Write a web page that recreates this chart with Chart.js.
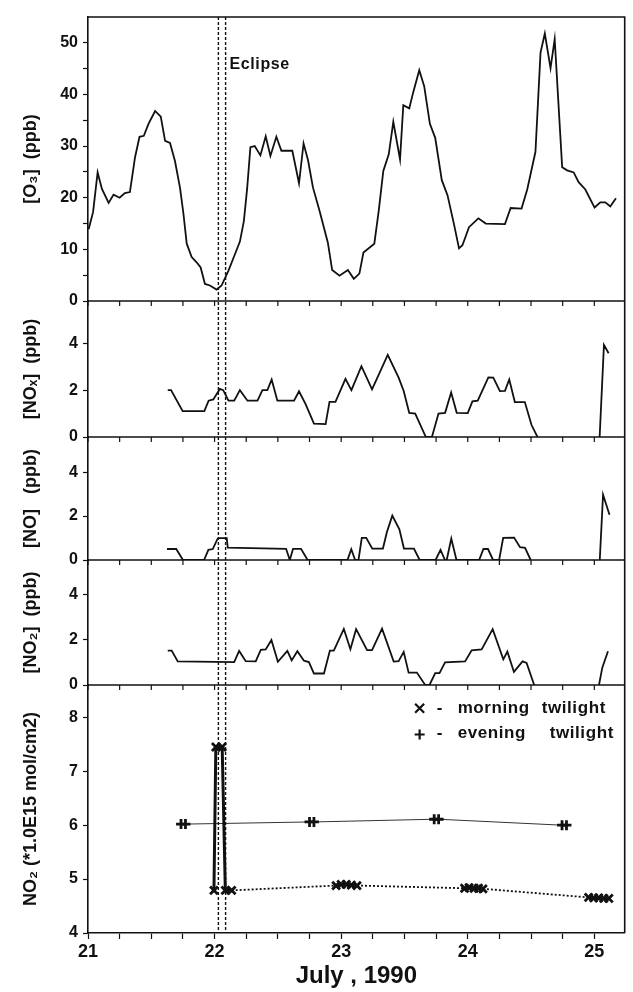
<!DOCTYPE html>
<html>
<head>
<meta charset="utf-8">
<script src="https://cdn.jsdelivr.net/npm/chart.js@4.4.1/dist/chart.umd.min.js"></script>
<style>
  html, body { margin: 0; padding: 0; background: #fff; }
  canvas { display: block; }
</style>
</head>
<body>
<canvas id="chart" width="633" height="992"></canvas>
<script>
// surface ozone, July 21-25 1990 (day of month, ppb)
const o3Days = [21.005, 21.04, 21.076, 21.11, 21.163, 21.202, 21.25, 21.291, 21.331, 21.372, 21.407, 21.441,
  21.478, 21.53, 21.575, 21.609, 21.648, 21.687, 21.727, 21.754, 21.78, 21.819, 21.858, 21.89, 21.924, 21.963,
  22.016, 22.055, 22.108, 22.16, 22.2, 22.231, 22.257, 22.283, 22.317, 22.362, 22.404, 22.441, 22.488, 22.528,
  22.614, 22.667, 22.703, 22.738, 22.777, 22.829, 22.895, 22.929, 22.987, 23.053, 23.1, 23.144, 23.176, 23.262,
  23.297, 23.333, 23.376, 23.412, 23.465, 23.491, 23.538, 23.569, 23.617, 23.656, 23.701, 23.743, 23.795, 23.84,
  23.892, 23.931, 23.958, 24.01, 24.084, 24.142, 24.294, 24.339, 24.425, 24.47, 24.535, 24.575, 24.609, 24.654,
  24.687, 24.746, 24.785, 24.837, 24.876, 24.929, 25.002, 25.047, 25.087, 25.126, 25.171];
const o3Ppb = [13.9, 17.2, 24.9, 21.7, 19.0, 20.6, 20.0, 20.9, 21.1, 27.9, 31.8, 32.0,
  34.3, 36.8, 35.7, 31.0, 30.6, 27.1, 21.9, 16.9, 11.1, 8.5, 7.5, 6.5, 3.3, 3.0,
  2.2, 3.0, 5.8, 9.0, 11.5, 15.4, 21.7, 29.8, 30.0, 28.2, 31.9, 28.1, 31.8, 29.1,
  29.1, 22.8, 30.5, 27.3, 22.0, 17.5, 11.3, 6.0, 4.9, 6.0, 4.3, 5.3, 9.4, 11.1,
  17.5, 25.2, 28.4, 34.7, 27.4, 37.9, 37.3, 40.4, 44.7, 41.6, 34.3, 31.6, 23.4, 20.5,
  14.8, 10.2, 10.8, 14.3, 16.0, 15.0, 14.9, 18.0, 17.9, 21.6, 28.9, 48.1, 51.8, 45.1,
  50.7, 25.9, 25.3, 24.9, 23.0, 21.6, 18.1, 19.1, 19.1, 18.3, 19.9];

// NOx (ppb); null marks the gap in the record
const noxDays = [21.63, 21.656, 21.748, 21.919, 21.953, 21.99, 22.042, 22.068, 22.11, 22.155, 22.2, 22.26,
  22.339, 22.378, 22.417, 22.451, 22.496, 22.628, 22.667, 22.719, 22.785, 22.877, 22.908, 22.955, 23.034,
  23.081, 23.16, 23.244, 23.368, 23.454, 23.494, 23.538, 23.585, 23.669, 23.717, 23.769, 23.821, 23.869,
  23.913, 24.0, 24.037, 24.079, 24.163, 24.202, 24.254, 24.294, 24.328, 24.372, 24.451, 24.504, 24.551,
  24.8, 25.042, 25.076, 25.113];
const noxPpb = [2.0, 2.0, 1.1, 1.1, 1.55, 1.6, 2.05, 2.0, 1.55, 1.55, 2.0, 1.55,
  1.55, 2.0, 2.0, 2.45, 1.55, 1.55, 1.95, 1.4, 0.57, 0.55, 1.5, 1.5, 2.48,
  2.0, 3.02, 2.03, 3.5, 2.53, 1.96, 1.03, 1.0, 0, 0, 1.0, 1.03, 1.9,
  1.03, 1.02, 1.52, 1.55, 2.54, 2.53, 1.96, 1.97, 2.45, 1.49, 1.49, 0.51, 0,
  null, 0, 3.93, 3.57];

// NO (ppb)
const noDays = [21.624, 21.697, 21.75, 21.917, 21.951, 21.986, 22.022, 22.03, 22.096, 22.104, 22.565, 22.594,
  22.62, 22.683, 22.735, 23.05, 23.08, 23.11, 23.137, 23.163, 23.198, 23.246, 23.33, 23.361, 23.404, 23.46,
  23.496, 23.575, 23.62, 23.746, 23.785, 23.82, 23.834, 23.87, 23.911, 24.09, 24.124, 24.16, 24.2, 24.248,
  24.28, 24.366, 24.413, 24.453, 24.497, 24.8, 25.043, 25.069, 25.12];
const noPpb = [0.5, 0.5, 0, 0, 0.46, 0.5, 0.95, 1.0, 1.0, 0.56, 0.51, 0,
  0.51, 0.51, 0, 0, 0.49, 0, 0, 1.01, 1.01, 0.52, 0.52, 1.26, 2.02, 1.4,
  0.52, 0.52, 0, 0, 0.46, 0, 0, 0.98, 0, 0, 0.5, 0.5, 0, 0,
  1.01, 1.02, 0.58, 0.55, 0, null, 0, 2.97, 2.06];

// NO2 (ppb)
const no2Days = [21.63, 21.661, 21.709, 22.155, 22.194, 22.246, 22.325, 22.365, 22.404, 22.449, 22.5, 22.575,
  22.609, 22.654, 22.706, 22.745, 22.785, 22.864, 22.911, 22.942, 23.021, 23.073, 23.118, 23.205, 23.244,
  23.323, 23.415, 23.454, 23.494, 23.533, 23.598, 23.664, 23.698, 23.743, 23.777, 23.821, 23.979, 24.031,
  24.11, 24.197, 24.281, 24.313, 24.365, 24.433, 24.465, 24.525, 24.8, 25.037, 25.063, 25.108];
const no2Ppb = [1.53, 1.53, 1.05, 1.02, 1.51, 1.06, 1.05, 1.56, 1.58, 2.0, 1.03, 1.51,
  1.09, 1.5, 1.08, 1.02, 0.51, 0.51, 1.53, 1.53, 2.49, 1.59, 2.48, 1.55, 1.55,
  2.5, 1.04, 1.06, 1.47, 0.55, 0.55, 0, 0, 0.53, 0.53, 1.01, 1.05, 1.54,
  1.58, 2.48, 1.14, 1.48, 0.58, 1.05, 0.98, 0, null, 0, 0.77, 1.5];

// NO2 column (1.0E15 mol/cm2) at twilight
const morningDays = [21.995, 22.01, 22.06, 22.085, 22.135, 22.96, 23.0, 23.04, 23.08, 23.125,
  23.975, 24.01, 24.05, 24.085, 24.12, 24.955, 24.995, 25.035, 25.075, 25.115];
const morningCol = [4.79, 7.45, 7.45, 4.79, 4.79, 4.88, 4.9, 4.9, 4.89, 4.88,
  4.83, 4.84, 4.83, 4.83, 4.82, 4.66, 4.65, 4.65, 4.64, 4.64];
const eveningDays = [21.735, 21.77, 22.75, 22.785, 23.735, 23.77, 24.745, 24.78];
const eveningCol = [6.02, 6.02, 6.06, 6.06, 6.11, 6.11, 6.0, 6.0];

// eclipse start / end
const eclipseDays = [22.03, 22.087];

// tick labels
const dayLabels = [21, 22, 23, 24, 25];
const o3Ticks = [0, 5, 10, 15, 20, 25, 30, 35, 40, 45, 50];
const o3Labels = [0, 10, 20, 30, 40, 50];
const ppbTicks = [0, 2, 4];
const colTicks = [4, 5, 6, 7, 8];

const family = "'Liberation Sans', Arial, Helvetica, sans-serif";
const ink = '#111';

const pts = (xs, ys) => xs.map((x, i) => ({ x, y: ys[i] }));

const panel = (order, height, min, max, tickValues, labels, title) => ({
  type: 'linear',
  position: 'left',
  stack: 'panels',
  stackWeight: height,
  weight: order,
  min,
  max,
  afterBuildTicks: s => { s.ticks = tickValues.map(v => ({ value: v })); },
  afterFit: s => { s.width = 88; },
  border: { color: ink, width: 1.6 },
  grid: { drawOnChartArea: false, drawTicks: true, tickLength: 5, tickColor: ink, tickWidth: 1.2 },
  ticks: {
    color: ink, autoSkip: false, padding: 5,
    font: { family, size: 16, weight: 'bold' },
    callback: v => labels.includes(v) ? String(v) : ''
  },
  title: {
    display: true, text: title, color: ink,
    font: { family, size: 18, weight: 'bold' },
    padding: { top: 20, bottom: 0 }
  }
});

const line = (data, yAxisID) => ({
  data, yAxisID, borderColor: ink, borderWidth: 1.8, pointRadius: 0,
  tension: 0, spanGaps: false
});

// short hops (the eclipse spike) look solid and heavy in the original
const shortHop = c => (c.p1.parsed.x - c.p0.parsed.x) < 0.1;

const framePlugin = {
  id: 'frame',
  afterDatasetsDraw(chart) {
    const { ctx, chartArea: a, scales } = chart;
    const x = scales.x;
    ctx.save();
    ctx.strokeStyle = ink;
    ctx.lineWidth = 1.6;
    ctx.beginPath();
    ctx.moveTo(a.left, a.top);
    ctx.lineTo(a.right, a.top);
    ctx.lineTo(a.right, a.bottom);
    ctx.stroke();

    // panel separators with hanging ticks every 6 h
    ['yO3', 'yNOx', 'yNO', 'yNO2'].forEach(id => {
      const yb = scales[id].bottom;
      ctx.lineWidth = 1.6;
      ctx.beginPath();
      ctx.moveTo(a.left, yb);
      ctx.lineTo(a.right, yb);
      ctx.stroke();
      ctx.lineWidth = 1.2;
      ctx.beginPath();
      x.ticks.forEach(t => {
        const px = x.getPixelForValue(t.value);
        ctx.moveTo(px, yb);
        ctx.lineTo(px, yb + 5);
      });
      ctx.stroke();
    });

    // eclipse
    ctx.lineWidth = 1.4;
    ctx.setLineDash([3, 2]);
    eclipseDays.forEach(d => {
      const px = x.getPixelForValue(d);
      ctx.beginPath();
      ctx.moveTo(px, a.top);
      ctx.lineTo(px, a.bottom);
      ctx.stroke();
    });
    ctx.setLineDash([]);

    ctx.fillStyle = ink;
    ctx.textBaseline = 'middle';
    ctx.textAlign = 'left';
    ctx.font = `bold 16px ${family}`;
    ctx.letterSpacing = '0.6px';
    ctx.fillText('Eclipse', x.getPixelForValue(22.118), scales.yO3.getPixelForValue(45.7));

    // legend of the column panel
    const lx = x.getPixelForValue(23.62);
    const rows = [
      { y: scales.yCol.getPixelForValue(8.17), mark: 'x', a: 'morning', b: 'twilight', bx: 122 },
      { y: scales.yCol.getPixelForValue(7.7), mark: '+', a: 'evening', b: 'twilight', bx: 130 }
    ];
    ctx.font = `bold 17px ${family}`;
    rows.forEach(r => {
      ctx.lineWidth = 2.2;
      ctx.beginPath();
      if (r.mark === 'x') {
        ctx.moveTo(lx - 4.5, r.y - 4.5); ctx.lineTo(lx + 4.5, r.y + 4.5);
        ctx.moveTo(lx + 4.5, r.y - 4.5); ctx.lineTo(lx - 4.5, r.y + 4.5);
      } else {
        ctx.moveTo(lx - 5, r.y + 1); ctx.lineTo(lx + 5, r.y + 1);
        ctx.moveTo(lx, r.y - 4); ctx.lineTo(lx, r.y + 6);
      }
      ctx.stroke();
      ctx.fillText('-', lx + 17, r.y);
      ctx.fillText(r.a, lx + 38, r.y);
      ctx.fillText(r.b, lx + r.bx, r.y);
    });
    ctx.restore();
  }
};

new Chart(document.getElementById('chart'), {
  type: 'line',
  data: {
    datasets: [
      line(pts(o3Days, o3Ppb), 'yO3'),
      line(pts(noxDays, noxPpb), 'yNOx'),
      line(pts(noDays, noPpb), 'yNO'),
      line(pts(no2Days, no2Ppb), 'yNO2'),
      {
        data: pts(morningDays, morningCol), yAxisID: 'yCol',
        borderColor: ink, borderWidth: 1.8, borderDash: [2, 2],
        segment: {
          borderDash: c => shortHop(c) ? [] : [2, 2],
          borderWidth: c => shortHop(c) ? 3 : 1.8
        },
        pointStyle: 'crossRot', pointRadius: 5.5, pointBorderWidth: 2.8,
        pointBorderColor: ink, pointBackgroundColor: ink
      },
      {
        data: pts(eveningDays, eveningCol), yAxisID: 'yCol',
        borderColor: '#333', borderWidth: 1,
        pointStyle: 'cross', pointRadius: 5, pointBorderWidth: 2.8,
        pointBorderColor: ink, pointBackgroundColor: ink
      }
    ]
  },
  options: {
    responsive: false,
    animation: false,
    parsing: { xAxisKey: 'x', yAxisKey: 'y' },
    layout: { padding: { top: 17, right: 7, left: 0, bottom: 0 } },
    plugins: { legend: { display: false }, tooltip: { enabled: false } },
    scales: {
      x: {
        type: 'linear', min: 21, max: 25.24,
        afterBuildTicks: s => {
          const t = [];
          for (let v = 21; v <= 25.001; v += 0.25) t.push({ value: Math.round(v * 100) / 100 });
          s.ticks = t;
        },
        afterFit: s => { s.height = 59; },
        border: { color: ink, width: 1.6 },
        grid: { drawOnChartArea: false, drawTicks: true, tickLength: 6, tickColor: ink, tickWidth: 1.2 },
        ticks: {
          color: ink, autoSkip: false, maxRotation: 0, padding: 2,
          font: { family, size: 18, weight: 'bold' },
          callback: v => dayLabels.includes(v) ? String(v) : ''
        },
        title: {
          display: true, text: 'July , 1990', color: ink,
          font: { family, size: 24, weight: 'bold' },
          padding: { top: 4, bottom: 1 }
        }
      },
      yO3: panel(5, 284, 0, 55, o3Ticks, o3Labels, '[O\u2083]  (ppb)'),
      yNOx: panel(4, 136, 0, 5.8, ppbTicks, ppbTicks, '[NO\u2093]  (ppb)'),
      yNO: panel(3, 123, 0, 5.6, ppbTicks, ppbTicks, '[NO]   (ppb)'),
      yNO2: panel(2, 125, 0, 5.55, ppbTicks, ppbTicks, '[NO\u2082]  (ppb)'),
      yCol: panel(1, 248, 4, 8.6, colTicks, colTicks, 'NO\u2082 (*1.0E15 mol/cm2)')
    }
  },
  plugins: [framePlugin]
});
</script>
</body>
</html>
